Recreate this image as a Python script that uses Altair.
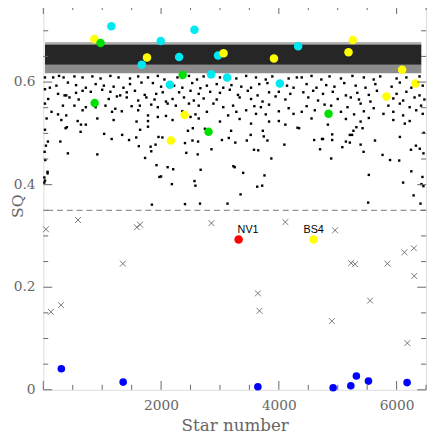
import altair as alt
import pandas as pd

# ---- scattered black points (star number, SQ) ----
black_x = [
    28, 167, 267, 344, 528, 667, 833, 972, 1139, 1278, 1472, 1611, 1778, 1944, 2056,
    111, 222, 417, 556, 722, 889, 1028, 1194, 1361, 1472, 1667, 1861, 2000, 2111,
    28, 250, 389, 556, 667, 806, 1000, 1139, 1306, 1417, 1556, 1722, 1917, 2028,
    83, 361, 444, 600, 1111, 1250, 1417, 1611, 1750, 1889, 2083,
    28, 333, 528, 722, 889, 1056, 1222, 1500, 1639, 1833, 1944, 2111,
    139, 250, 389, 667, 1167, 1333, 1611, 1778, 1944, 2083,
    56, 306, 583, 639, 722, 917, 1194, 1583, 1778,
    2278, 2473, 2611, 2723, 3000, 3278, 3445, 3612, 3778, 3889, 4167, 4306,
    2222, 2361, 2528, 2667, 2778, 2945, 3056, 3195, 3362, 3528, 3667, 3806, 4139, 4250,
    2306, 2500, 2639, 2834, 3000, 3167, 3306, 3473, 3639, 3834, 4000, 4195,
    2195, 2389, 2556, 2723, 2945, 3334, 3528, 3723, 3945, 4111,
    2250, 2473, 2639, 2889, 3056, 3223, 3584, 3695, 3834, 4167,
    2361, 2584, 2778, 3139, 3278, 3445, 3612, 3778, 4000, 4250,
    2195, 2500, 2639, 3000, 3334, 3528, 3834, 4000, 4111,
    4389, 4555, 4722, 4861, 5055, 5250, 5444, 5611, 5722, 6000, 6166, 6389,
    4472, 4639, 4805, 4944, 5111, 5305, 5472, 5639, 5916, 6055, 6250, 6444,
    4416, 4583, 4750, 4916, 5139, 5333, 5528, 5666, 6000, 6166, 6389,
    4500, 4666, 5000, 5222, 5361, 5555, 5944, 6111, 6305, 6472,
    4472, 4777, 4889, 5166, 5389, 5611, 5861, 6055, 6222, 6416,
    4389, 4611, 5055, 5278, 5444, 5777, 5944, 6111, 6333, 6444,
    4555, 4833, 5139, 5389, 5528, 5944, 6139, 6222,
    28, 378, 400, 633, 1033, 1339, 1644, 1778, 78, 289, 1161, 1456, 1578, 1956, 2022,
    44, 1906, 1622, 1822, 1833, 22, 417, 917, 1728, 33, 1922, 2111, 72, 72, 1972, 2000,
    17, 28, 17, 1844,
    2456, 2539, 2744, 3189, 3728, 4317, 3522, 3744, 3150, 2406, 2533, 2628, 3033, 3261,
    3456, 3806, 4094, 2856, 3578, 3650, 2428, 2622, 3872, 3228, 3250, 2206, 2672, 3394,
    3756, 2567, 2583, 2183, 3633, 3717, 3350, 2406, 2661, 3128,
    4344, 5317, 5422, 5267, 5206, 5244, 4906, 6461, 4600, 4733, 4750, 4906, 5139, 5206,
    5633, 6056, 5389, 5078, 6328, 6394, 6244, 4700, 5439, 6456, 5761, 4889, 5889, 6044,
    6250, 5528, 6439, 6111, 6422, 6456, 6289, 5517, 6406,
]
black_y = [
    0.609, 0.609, 0.612, 0.609, 0.611, 0.609, 0.611, 0.607, 0.612, 0.609, 0.607, 0.611, 0.609, 0.612, 0.605,
    0.589, 0.593, 0.599, 0.594, 0.589, 0.596, 0.593, 0.591, 0.589, 0.596, 0.599, 0.598, 0.591, 0.593,
    0.586, 0.577, 0.574, 0.579, 0.583, 0.581, 0.585, 0.581, 0.574, 0.580, 0.583, 0.575, 0.577, 0.580,
    0.567, 0.574, 0.570, 0.566, 0.567, 0.572, 0.570, 0.564, 0.570, 0.566, 0.562,
    0.558, 0.554, 0.554, 0.551, 0.551, 0.554, 0.548, 0.553, 0.554, 0.556, 0.551, 0.558,
    0.542, 0.537, 0.535, 0.545, 0.542, 0.543, 0.545, 0.535, 0.532, 0.534,
    0.529, 0.526, 0.524, 0.517, 0.517, 0.529, 0.526, 0.523, 0.524,
    0.609, 0.612, 0.605, 0.611, 0.609, 0.607, 0.612, 0.609, 0.605, 0.611, 0.607, 0.609,
    0.593, 0.589, 0.598, 0.588, 0.593, 0.596, 0.589, 0.594, 0.591, 0.589, 0.596, 0.598, 0.593, 0.589,
    0.580, 0.583, 0.577, 0.581, 0.579, 0.585, 0.575, 0.583, 0.574, 0.580, 0.581, 0.577,
    0.567, 0.570, 0.564, 0.568, 0.566, 0.570, 0.567, 0.562, 0.572, 0.566,
    0.554, 0.558, 0.554, 0.558, 0.551, 0.554, 0.553, 0.551, 0.556, 0.549,
    0.543, 0.537, 0.542, 0.535, 0.542, 0.545, 0.538, 0.537, 0.543, 0.538,
    0.526, 0.532, 0.529, 0.523, 0.528, 0.519, 0.523, 0.524, 0.517,
    0.609, 0.612, 0.605, 0.611, 0.607, 0.612, 0.609, 0.605, 0.611, 0.607, 0.609, 0.611,
    0.596, 0.589, 0.594, 0.591, 0.598, 0.593, 0.589, 0.596, 0.591, 0.599, 0.589, 0.593,
    0.580, 0.583, 0.577, 0.581, 0.574, 0.579, 0.575, 0.583, 0.577, 0.581, 0.574,
    0.570, 0.564, 0.567, 0.570, 0.566, 0.562, 0.568, 0.564, 0.570, 0.566,
    0.553, 0.556, 0.554, 0.551, 0.558, 0.549, 0.554, 0.558, 0.551, 0.554,
    0.542, 0.545, 0.542, 0.537, 0.543, 0.538, 0.542, 0.535, 0.545, 0.538,
    0.529, 0.517, 0.528, 0.523, 0.530, 0.526, 0.519, 0.524,
    0.507, 0.510, 0.512, 0.503, 0.499, 0.497, 0.507, 0.513, 0.484, 0.484, 0.489, 0.487, 0.492, 0.493, 0.492,
    0.476, 0.478, 0.475, 0.474, 0.465, 0.464, 0.461, 0.459, 0.452, 0.448, 0.438, 0.434, 0.425, 0.422, 0.415, 0.416,
    0.414, 0.408, 0.404, 0.361,
    0.505, 0.510, 0.509, 0.505, 0.505, 0.511, 0.497, 0.494, 0.491, 0.481, 0.486, 0.484, 0.487, 0.482,
    0.486, 0.486, 0.478, 0.469, 0.468, 0.467, 0.462, 0.459, 0.451, 0.436, 0.434, 0.430, 0.429, 0.423,
    0.418, 0.407, 0.398, 0.401, 0.396, 0.398, 0.381, 0.362, 0.363, 0.363,
    0.510, 0.512, 0.510, 0.505, 0.497, 0.497, 0.498, 0.501, 0.487, 0.489, 0.489, 0.487, 0.484, 0.482,
    0.486, 0.493, 0.478, 0.473, 0.476, 0.470, 0.468, 0.469, 0.464, 0.461, 0.458, 0.451, 0.448, 0.447,
    0.426, 0.419, 0.415, 0.404, 0.401, 0.397, 0.379, 0.365, 0.363,
]

# ---- dense band of stars (drawn as shaded blocks) ----
band_x0 = [28, 28, 28]
band_x1 = [6420, 6420, 6420]
band_y0 = [0.634, 0.617, 0.673]
band_y1 = [0.673, 0.634, 0.678]
band_opacity = [0.85, 0.45, 0.3]

# ---- crosses below the threshold ----
cross_x = [45, 128, 300, 589, 1350, 1589, 1644, 2856, 4111, 3644, 3672, 4955, 4900,
           5228, 5294, 5550, 5844, 6133, 6294, 6300, 6183]
cross_y = [0.313, 0.152, 0.165, 0.331, 0.246, 0.317, 0.322, 0.325, 0.327, 0.188, 0.154,
           0.311, 0.134, 0.247, 0.245, 0.174, 0.246, 0.268, 0.276, 0.222, 0.091]

# ---- coloured stars ----
col_x = [1156, 1994, 2567, 1672, 2306, 2150, 2850, 2967, 3122, 4017, 4328,
         867, 1761, 2400, 2167, 3061, 3917, 5256, 5183, 6094, 5828, 6322,
         972, 2367, 872, 2806, 4844,
         306, 1356, 3644, 4922, 5222, 5317, 5522, 6178,
         3317, 4589]
col_y = [0.709, 0.680, 0.702, 0.634, 0.649, 0.595, 0.615, 0.652, 0.609, 0.597, 0.670,
         0.684, 0.648, 0.536, 0.486, 0.656, 0.646, 0.682, 0.658, 0.624, 0.572, 0.597,
         0.676, 0.614, 0.559, 0.503, 0.538,
         0.041, 0.015, 0.006, 0.004, 0.008, 0.027, 0.017, 0.014,
         0.293, 0.293]
col_c = (["#00e8f0"] * 11 + ["#ffff00"] * 11 + ["#00e000"] * 5 +
         ["#0000ff"] * 8 + ["#ff0000", "#ffff00"])
col_s = [75] * 27 + [60] * 8 + [75, 75]

label_txt = ["NV1", "BS4"]
label_x = [3478, 4591]
label_y = [0.306, 0.306]

threshold = [0.35]

x_major = [0, 2000, 4000, 6000]
x_minor = [500, 1000, 1500, 2500, 3000, 3500, 4500, 5000, 5500, 6500]
y_major = [0, 0.2, 0.4, 0.6]
y_major_text = ["0", "0.2", "0.4", "0.6"]
y_minor = [0.05, 0.1, 0.15, 0.25, 0.3, 0.35, 0.45, 0.5, 0.55, 0.65, 0.7]
y_title = ["SQ"]

W, H = 390, 392
XD = [0, 6500]
YD = [0, 0.75]
FONT = "DejaVu Serif"
GRAY = "#666666"

xs = alt.Scale(domain=XD, nice=False, zero=False)
ys = alt.Scale(domain=YD, nice=False, zero=False)

xaxis = alt.Axis(values=[2000, 4000, 6000], format="d", ticks=False, domain=False, grid=False,
                 labelFont=FONT, labelFontSize=14, labelColor=GRAY, labelPadding=9,
                 title="Star number", titleFont=FONT, titleFontSize=17,
                 titleFontWeight="normal", titleColor=GRAY, titlePadding=5)


def Y(field="y:Q"):
    return alt.Y(field, scale=ys, axis=None)


band = alt.Chart(pd.DataFrame({"x": band_x0, "x2": band_x1, "y": band_y0,
                               "y2": band_y1, "op": band_opacity})).mark_rect(
    color="#000000").encode(
    x=alt.X("x:Q", scale=xs, axis=xaxis),
    x2="x2:Q",
    y=Y(),
    y2="y2:Q",
    opacity=alt.Opacity("op:Q", scale=None),
)

pts = alt.Chart(pd.DataFrame({"x": black_x, "y": black_y})).mark_square(
    color="#000000", size=6, opacity=1).encode(
    x=alt.X("x:Q", scale=xs), y=Y())

dash = alt.Chart(pd.DataFrame({"y": threshold})).mark_rule(
    color="#777777", strokeDash=[6, 4], strokeWidth=1).encode(y=Y())

crosses = alt.Chart(pd.DataFrame({"x": cross_x, "y": cross_y})).mark_point(
    shape="M-1,-1L1,1M1,-1L-1,1", filled=False, color="#555555",
    strokeWidth=0.8, size=36, opacity=1).encode(
    x=alt.X("x:Q", scale=xs), y=Y())

colored = alt.Chart(pd.DataFrame({"x": col_x, "y": col_y, "c": col_c, "s": col_s})).mark_circle(
    opacity=1).encode(
    x=alt.X("x:Q", scale=xs), y=Y(),
    color=alt.Color("c:N", scale=None),
    size=alt.Size("s:Q", scale=None))

labels = alt.Chart(pd.DataFrame({"x": label_x, "y": label_y, "t": label_txt})).mark_text(
    font="Liberation Sans", fontSize=11, color="#000000", baseline="alphabetic",
    align="center").encode(
    x=alt.X("x:Q", scale=xs), y=Y(), text="t:N")

ylabels = alt.Chart(pd.DataFrame({"y": y_major, "t": y_major_text})).mark_text(
    font=FONT, fontSize=14, color=GRAY, align="right", baseline="middle").encode(
    x=alt.value(-8), y=Y(), text="t:N")

ytitle = alt.Chart(pd.DataFrame({"t": y_title})).mark_text(
    font=FONT, fontSize=16, color=GRAY, align="center", baseline="middle",
    angle=270).encode(
    x=alt.value(-26), y=alt.value(205), text="t:N")

TC = "#666666"


def xticks(vals, length, top):
    return alt.Chart(pd.DataFrame({"x": vals})).mark_rule(color=TC, strokeWidth=1).encode(
        x=alt.X("x:Q", scale=xs),
        y=alt.value(0 if top else H),
        y2=alt.value(length if top else H - length))


def yticks(vals, length, right):
    return alt.Chart(pd.DataFrame({"y": vals})).mark_rule(color=TC, strokeWidth=1).encode(
        y=Y(),
        x=alt.value(W if right else 0),
        x2=alt.value(W - length if right else length))


ticks = [xticks(x_major, 9, False), xticks(x_minor, 5, False),
         xticks(x_major, 9, True), xticks(x_minor, 5, True),
         yticks(y_major, 9, False), yticks(y_minor, 5, False),
         yticks(y_major, 9, True), yticks(y_minor, 5, True)]

chart = alt.layer(band, pts, dash, crosses, colored, labels, ylabels, ytitle, *ticks).properties(
    width=W, height=H,
    autosize=alt.AutoSizeParams(type="none"),
    padding={"left": 36, "top": -7, "right": 2, "bottom": 43},
).configure_view(stroke="#555555", strokeWidth=1).configure(background="white")

chart.save("out.html", embed_options={"renderer": "svg", "actions": False})
